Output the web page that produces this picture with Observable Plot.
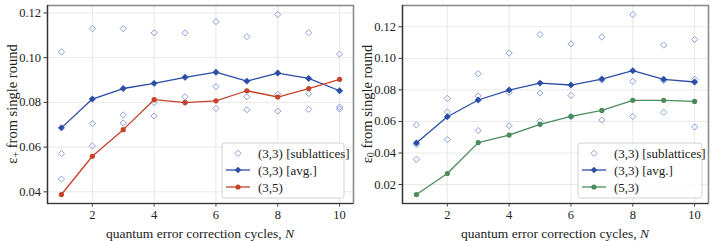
<!DOCTYPE html>
<html><head><meta charset="utf-8">
<script src="https://cdn.jsdelivr.net/npm/d3@7"></script>
<script src="https://cdn.jsdelivr.net/npm/@observablehq/plot@0.6"></script>
<style>
body{margin:0;background:#fff;}
#wrap{position:relative;width:713px;height:241px;display:flex;}
svg{display:block;}
#wrap svg text, #wrap svg tspan{font-family:"Liberation Serif" !important;}
</style></head>
<body><div id="wrap"></div>
<script>
const cycles = [1,2,3,4,5,6,7,8,9,10];
const xTicks = [2,4,6,8,10];

// left panel: eps_+
const leftSubA = [0.1026,0.1130,0.1130,0.1111,0.1111,0.1161,0.1094,0.1193,0.1111,0.1016];
const leftSubB = [0.0571,0.0705,0.0744,0.0799,0.0825,0.0870,0.0825,0.0836,0.0839,0.0779];
const leftSubC = [0.0457,0.0605,0.0708,0.0739,0.0800,0.0773,0.0767,0.0761,0.0769,0.0770];
const leftAvg  = [0.0686,0.0815,0.0862,0.0885,0.0912,0.0935,0.0895,0.0931,0.0907,0.0852];
const left35   = [0.0388,0.0559,0.0678,0.0812,0.0799,0.0807,0.0852,0.0824,0.0862,0.0903];
const leftYTicks = [0.04,0.06,0.08,0.10,0.12];

// right panel: eps_0
const rightSubA = [0.0578,0.0746,0.0903,0.1033,0.1151,0.1092,0.1135,0.1278,0.1084,0.1120];
const rightSubB = [0.0453,0.0660,0.0761,0.0784,0.0780,0.0765,0.0863,0.0854,0.0859,0.0867];
const rightSubC = [0.0360,0.0485,0.0542,0.0573,0.0601,0.0630,0.0609,0.0632,0.0658,0.0565];
const rightAvg  = [0.0464,0.0630,0.0736,0.0799,0.0843,0.0831,0.0869,0.0922,0.0867,0.0850];
const right53   = [0.0137,0.0270,0.0466,0.0514,0.0582,0.0632,0.0670,0.0734,0.0734,0.0727];
const rightYTicks = [0.02,0.04,0.06,0.08,0.10,0.12];

const legendLabels = ["(3,3) [sublattices]", "(3,3) [avg.]"];
const xLabel = "quantum error correction cycles, ";

const C_SUB = "#8da1da", C_AVG = "#2b4da6", C_RED = "#c5432b", C_GREEN = "#4b8c5e";
const FONT = "Liberation Serif, serif";

function pad(arrs) {
  const all = arrs.flat();
  const [lo, hi] = d3.extent(all);
  const m = (hi - lo) * 0.05;
  return [lo - m, hi + m];
}

function panel(o) {
  const subs = [];
  for (const s of o.subs) cycles.forEach((n, i) => subs.push({n, v: s[i]}));
  const avg = cycles.map((n, i) => ({n, v: o.avg[i]}));
  const oth = cycles.map((n, i) => ({n, v: o.other[i]}));
  const yDom = pad([...o.subs, o.avg, o.other]);
  const xDom = [1 - 0.45, 10 + 0.45];
  const svg = Plot.plot({
    width: o.width, height: 241,
    marginLeft: o.ml, marginRight: o.mr, marginTop: 5, marginBottom: 38,
    style: {fontFamily: FONT, fontSize: "12.5px", color: "#222", background: "#fff"},
    x: {domain: xDom, ticks: xTicks},
    y: {domain: yDom, ticks: o.yTicks, tickFormat: d3.format(".2f")},
    marks: [
      Plot.gridX(xTicks, {stroke: "#e3e3e3", strokeOpacity: 1, strokeWidth: 0.8}),
      Plot.gridY(o.yTicks, {stroke: "#e3e3e3", strokeOpacity: 1, strokeWidth: 0.8}),
      Plot.axisX({ticks: xTicks, tickSize: 3.5, tickPadding: 3, label: null, stroke: "#333"}),
      Plot.axisY({ticks: o.yTicks, tickSize: 3.5, tickPadding: 3, label: null, tickFormat: d3.format(".2f"), stroke: "#333"}),
      Plot.dot(subs, {x: "n", y: "v", symbol: "diamond2", r: 2.8, stroke: C_SUB, strokeWidth: 1, fill: "none"}),
      Plot.line(avg, {x: "n", y: "v", stroke: C_AVG, strokeWidth: 1.3}),
      Plot.dot(avg, {x: "n", y: "v", symbol: "diamond2", r: 2.9, fill: C_AVG, stroke: C_AVG, strokeWidth: 0.5}),
      Plot.line(oth, {x: "n", y: "v", stroke: o.color, strokeWidth: 1.3}),
      Plot.dot(oth, {x: "n", y: "v", r: 2.6, fill: o.color}),
      Plot.frame({stroke: "#8c8c8c", strokeWidth: 1.6}),
      Plot.ruleX([xDom[0]], {stroke: "#333", strokeWidth: 1.2}),
      Plot.ruleY([yDom[0]], {stroke: "#333", strokeWidth: 1.2})
    ]
  });
  const g = d3.select(svg);
  const x0 = o.ml, x1 = o.width - o.mr;
  const yl = g.append("text").attr("transform", `translate(${o.ylx},104) rotate(-90)`)
    .attr("text-anchor", "middle").attr("dominant-baseline", "central")
    .attr("font-size", 14.5).attr("fill", "#222");
  yl.append("tspan").text("ε");
  yl.append("tspan").attr("font-size", 10).attr("dy", 3).text(o.sub);
  yl.append("tspan").attr("dy", -3).text(" from single round");
  const xl = g.append("text").attr("x", (x0 + x1) / 2).attr("y", 233)
    .attr("text-anchor", "middle").attr("dominant-baseline", "central")
    .attr("font-size", 13.5).attr("fill", "#222");
  xl.append("tspan").text(xLabel);
  xl.append("tspan").attr("font-style", "italic").text("N");
  const lg = g.append("g").attr("font-size", 13).attr("fill", "#222");
  lg.append("rect").attr("x", 222).attr("y", 143).attr("width", o.lw).attr("height", 55)
    .attr("rx", 2.5).attr("fill", "rgba(255,255,255,0.85)").attr("stroke", "#d2d2d2").attr("stroke-width", 1);
  const rows = [153.3, 170, 187];
  const labels = [legendLabels[0], legendLabels[1], o.otherLabel];
  rows.forEach((yy, i) => {
    if (i === 0) {
      lg.append("path").attr("d", d3.symbol(d3.symbolDiamond2, Math.PI * 2.8 * 2.8)())
        .attr("transform", `translate(238,${yy})`).attr("fill", "none").attr("stroke", C_SUB);
    } else {
      const c = i === 1 ? C_AVG : o.color;
      lg.append("line").attr("x1", 226).attr("x2", 250).attr("y1", yy).attr("y2", yy).attr("stroke", c).attr("stroke-width", 1.3);
      if (i === 1) lg.append("path").attr("d", d3.symbol(d3.symbolDiamond2, Math.PI * 2.9 * 2.9)())
        .attr("transform", `translate(238,${yy})`).attr("fill", c);
      else lg.append("circle").attr("cx", 238).attr("cy", yy).attr("r", 2.6).attr("fill", c);
    }
    lg.append("text").attr("x", 258).attr("y", yy).attr("text-anchor", "start")
      .attr("dominant-baseline", "central").text(labels[i]);
  });
  return svg;
}

const wrap = document.getElementById("wrap");
wrap.appendChild(panel({width: 356, ml: 47, mr: 3, subs: [leftSubA, leftSubB, leftSubC], avg: leftAvg, other: left35,
  color: C_RED, otherLabel: "(3,5)", yTicks: leftYTicks, sub: "+", ylx: 12, lw: 122}));
wrap.appendChild(panel({width: 357, ml: 46, mr: 5, subs: [rightSubA, rightSubB, rightSubC], avg: rightAvg, other: right53,
  color: C_GREEN, otherLabel: "(5,3)", yTicks: rightYTicks, sub: "0", ylx: 11, lw: 124}));
</script></body></html>
